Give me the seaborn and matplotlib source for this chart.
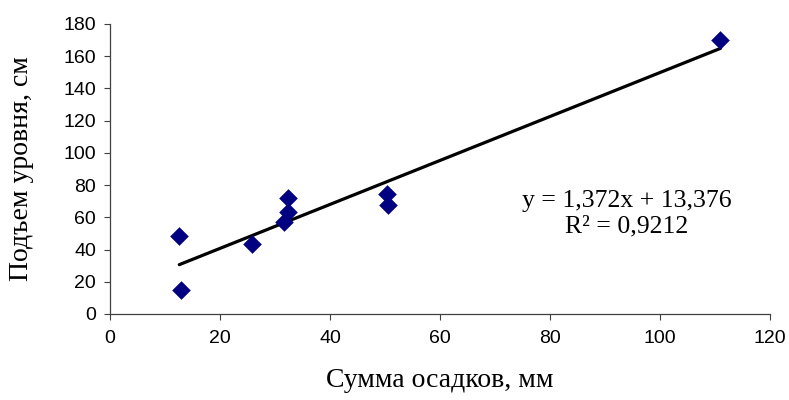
import matplotlib
matplotlib.use("Agg")
import matplotlib.pyplot as plt
import seaborn as sns
import pandas as pd

# sum of precipitation (mm) and level rise (cm)
precip = [12.6, 13.0, 25.9, 32.4, 32.3, 31.7, 50.3, 50.6, 111.0]
rise = [48.6, 14.9, 43.4, 71.8, 63.5, 57.3, 74.5, 67.7, 170.1]

x_ticks = [0, 20, 40, 60, 80, 100, 120]
y_ticks = [0, 20, 40, 60, 80, 100, 120, 140, 160, 180]

eq_text = "y = 1,372x + 13,376"
r2_text = "R² = 0,9212"

df = pd.DataFrame({"precip": precip, "rise": rise})

sns.set_style("ticks")
plt.rcParams['font.family'] = ['Liberation Sans', 'DejaVu Sans']

fig = plt.figure(figsize=(7.89, 4), dpi=100)
ax = fig.add_axes([0.1394, 0.215, 0.8365, 0.725])

sns.regplot(data=df, x="precip", y="rise", scatter=False, ci=None,
            color="black", line_kws={"linewidth": 2.3}, ax=ax)
sns.scatterplot(data=df, x="precip", y="rise", marker="D", s=90,
                color="#000080", edgecolor="#000080", linewidth=0, zorder=5, ax=ax)

ax.set_xlim(0, 120)
ax.set_ylim(0, 180)
ax.set_xticks(x_ticks)
ax.set_yticks(y_ticks)
ax.tick_params(labelsize=14, length=4.5, width=0.8, color="#404040",
               labelcolor="black", pad=5.5)
ax.tick_params(axis="x", pad=7)
for sp in ["left", "bottom"]:
    ax.spines[sp].set_color("#404040")
    ax.spines[sp].set_linewidth(0.9)
sns.despine(ax=ax)

serif = ['Liberation Serif', 'DejaVu Serif']
ax.set_xlabel("Сумма осадков, мм", family=serif, fontsize=20, labelpad=15,
              color="black")
ax.set_ylabel("Подъем уровня, см", family=serif, fontsize=20, labelpad=21,
              color="black")

ax.text(0.783, 0.39, eq_text, transform=ax.transAxes, ha="center", va="center",
        family=serif, fontsize=18.5, color="black")
ax.text(0.783, 0.303, r2_text, transform=ax.transAxes, ha="center", va="center",
        family=serif, fontsize=18.5, color="black")

fig.savefig("out.png", dpi=100)
